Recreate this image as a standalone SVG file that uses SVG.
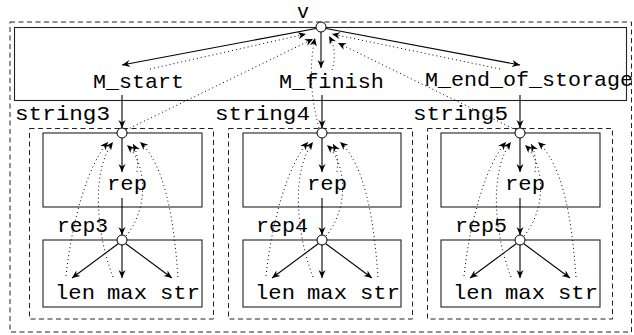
<svg xmlns="http://www.w3.org/2000/svg" width="634" height="335" viewBox="0 0 634 335">
<style>
.t{font-family:"Liberation Mono","DejaVu Sans Mono",monospace;font-size:21px;fill:#000}
.box{fill:none;stroke:#222;stroke-width:1.1}
.dash{fill:none;stroke:#222;stroke-width:1;stroke-dasharray:5 3.5}
.dot{fill:#fff;stroke:#000;stroke-width:1}
.arr{fill:none;stroke:#000;stroke-width:1.1;marker-end:url(#ah)}
.dt{fill:none;stroke:#000;stroke-width:1;stroke-dasharray:1 3;marker-end:url(#ah)}
</style>
<defs>
<marker id="ah" markerUnits="userSpaceOnUse" markerWidth="10" markerHeight="10" refX="9" refY="5" orient="auto">
<path d="M1,1.5 L9,5 L1,8.5 L3.5,5 z" fill="#000" stroke="none"/>
</marker>
</defs>
<rect class="dash" x="10" y="22" width="621.5" height="310"/>
<g id="top-box"><rect class="box" x="14.5" y="27.5" width="612" height="73"/></g>
<g id="M_start"><text class="t" x="93" y="88" textLength="91" lengthAdjust="spacingAndGlyphs">M_start</text></g>
<g id="M_finish"><text class="t" x="279" y="88" textLength="105" lengthAdjust="spacingAndGlyphs">M_finish</text></g>
<g id="M_end_of_storage"><text class="t" x="425" y="86" textLength="208" lengthAdjust="spacingAndGlyphs">M_end_of_storage</text></g>
<g id="string3">
<rect class="dash" x="29.5" y="128.5" width="184" height="190.5"/>
<text class="t" x="15" y="120" textLength="95" lengthAdjust="spacingAndGlyphs">string3</text>
<rect class="box" x="43" y="133" width="159" height="74"/>
<text class="t" x="107" y="190" textLength="40" lengthAdjust="spacingAndGlyphs">rep</text>
<text class="t" x="57" y="232" textLength="51" lengthAdjust="spacingAndGlyphs">rep3</text>
<rect class="box" x="43" y="240" width="159" height="67"/>
<text class="t" x="55" y="299" textLength="40" lengthAdjust="spacingAndGlyphs">len</text>
<text class="t" x="107" y="299" textLength="40" lengthAdjust="spacingAndGlyphs">max</text>
<text class="t" x="160" y="299" textLength="40" lengthAdjust="spacingAndGlyphs">str</text>
</g>
<g id="string4" transform="translate(200,0)">
<rect class="dash" x="28.5" y="128.5" width="184" height="190.5"/>
<text class="t" x="15" y="120" textLength="95" lengthAdjust="spacingAndGlyphs">string4</text>
<rect class="box" x="43" y="133" width="158" height="74"/>
<text class="t" x="107" y="190" textLength="40" lengthAdjust="spacingAndGlyphs">rep</text>
<text class="t" x="56" y="232" textLength="52" lengthAdjust="spacingAndGlyphs">rep4</text>
<rect class="box" x="43" y="240" width="158" height="67"/>
<text class="t" x="55" y="299" textLength="40" lengthAdjust="spacingAndGlyphs">len</text>
<text class="t" x="107" y="299" textLength="40" lengthAdjust="spacingAndGlyphs">max</text>
<text class="t" x="160" y="299" textLength="40" lengthAdjust="spacingAndGlyphs">str</text>
</g>
<g id="string5" transform="translate(398,0)">
<rect class="dash" x="29.5" y="128.5" width="185" height="190.5"/>
<text class="t" x="15" y="120" textLength="95" lengthAdjust="spacingAndGlyphs">string5</text>
<rect class="box" x="43" y="133" width="159" height="74"/>
<text class="t" x="107" y="190" textLength="40" lengthAdjust="spacingAndGlyphs">rep</text>
<text class="t" x="57" y="232" textLength="52" lengthAdjust="spacingAndGlyphs">rep5</text>
<rect class="box" x="43" y="240" width="159" height="67"/>
<text class="t" x="55" y="299" textLength="40" lengthAdjust="spacingAndGlyphs">len</text>
<text class="t" x="107" y="299" textLength="40" lengthAdjust="spacingAndGlyphs">max</text>
<text class="t" x="160" y="299" textLength="40" lengthAdjust="spacingAndGlyphs">str</text>
</g>
<g id="connectors">
<line class="arr" x1="316" y1="28.5" x2="122" y2="65"/>
<line class="arr" x1="321" y1="32" x2="321" y2="68"/>
<line class="arr" x1="326" y1="28.5" x2="520" y2="65"/>
<line class="arr" x1="122" y1="95" x2="122" y2="128"/>
<line class="arr" x1="322" y1="95" x2="322" y2="128"/>
<line class="arr" x1="520" y1="95" x2="520" y2="128"/>
<path class="dt" d="M150,69 L306,34"/>
<path class="dt" d="M126,130 L313,39"/>
<path class="dt" d="M319,128 Q306,80 315,38"/>
<path class="dt" d="M332,70 Q338,52 329,36"/>
<path class="dt" d="M500,69 L332,34"/>
<path class="dt" d="M516,130 L338,43"/>
<g id="c3">
<line class="arr" x1="122" y1="138" x2="122" y2="172"/>
<line class="arr" x1="122" y1="198" x2="122" y2="235"/>
<line class="arr" x1="118.5" y1="243.5" x2="72" y2="278"/>
<line class="arr" x1="122" y1="245" x2="122" y2="278"/>
<line class="arr" x1="125.5" y1="243.5" x2="172" y2="278"/>
<path class="dt" d="M66,276 C72,220 88,165 108,142"/>
<path class="dt" d="M113,277 C95,230 92,170 113,142"/>
<path class="dt" d="M126,236 C148,210 148,165 127,145"/>
<path class="dt" d="M137,172 Q139,155 133,144"/>
<path class="dt" d="M178,277 C174,220 165,165 140,142"/>
</g>
<use href="#c3" transform="translate(200,0)"/>
<use href="#c3" transform="translate(398,0)"/>
</g>
<g id="v">
<text class="t" x="297" y="18" textLength="12" lengthAdjust="spacingAndGlyphs">v</text>
<circle class="dot" cx="321" cy="27" r="5"/>
</g>
<g id="circles">
<circle class="dot" cx="122" cy="133" r="5"/>
<circle class="dot" cx="122" cy="240" r="5"/>
<circle class="dot" cx="322" cy="133" r="5"/>
<circle class="dot" cx="322" cy="240" r="5"/>
<circle class="dot" cx="520" cy="133" r="5"/>
<circle class="dot" cx="520" cy="240" r="5"/>
</g>
</svg>
